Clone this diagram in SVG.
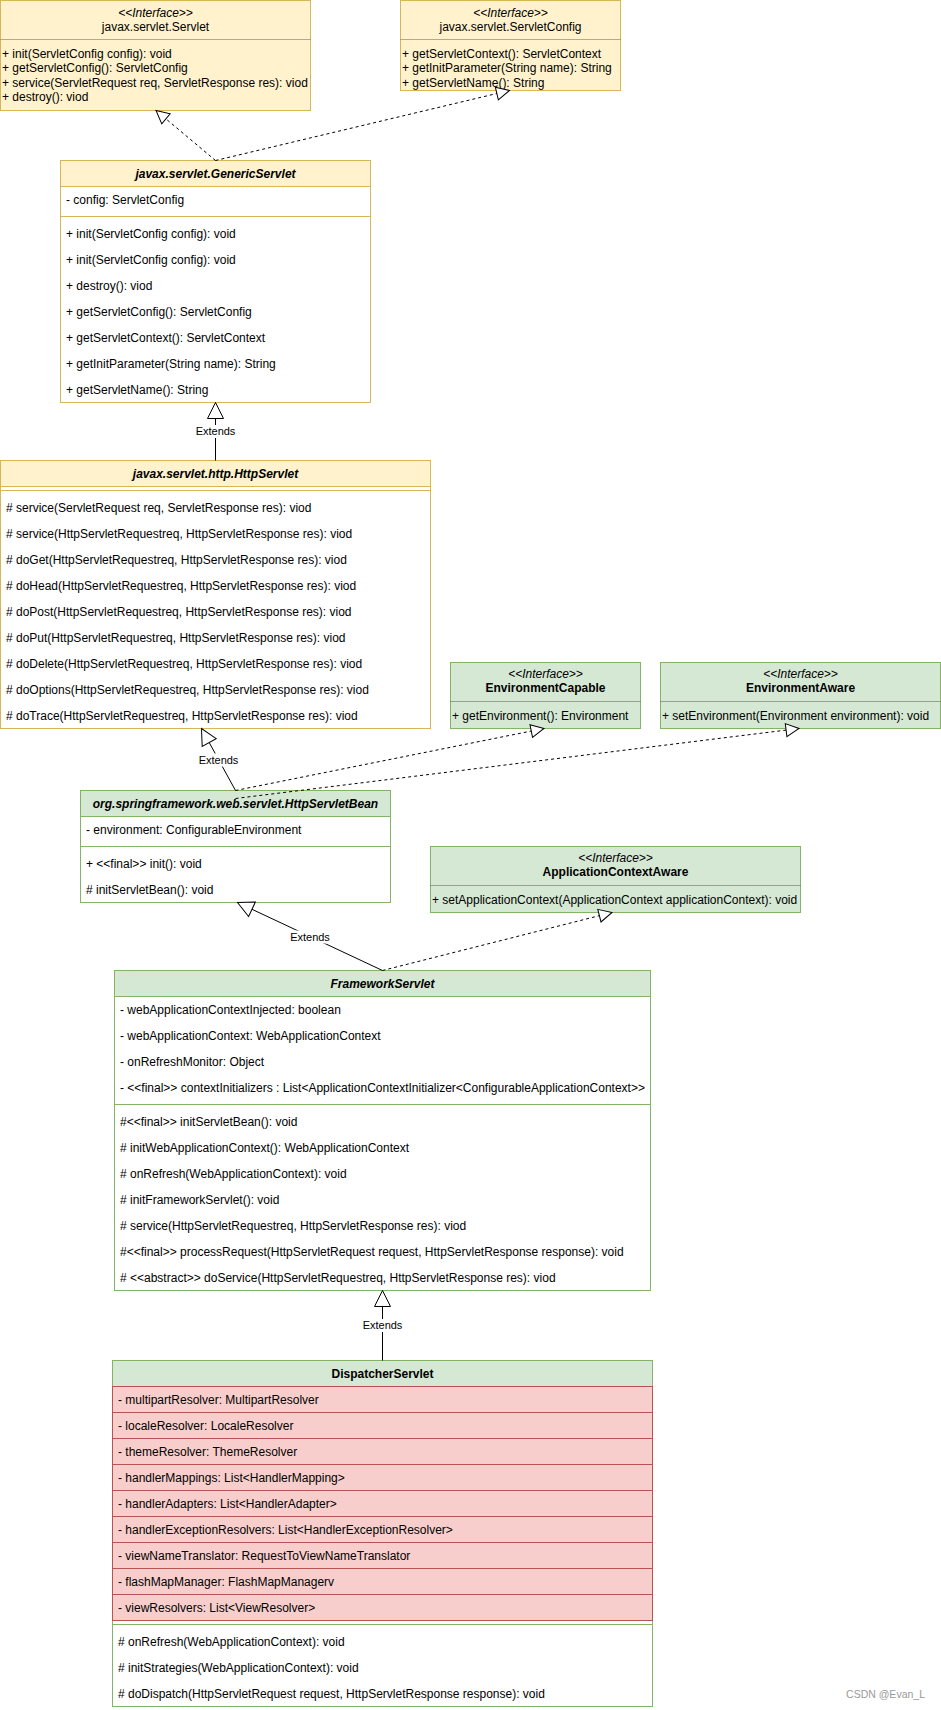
<svg xmlns="http://www.w3.org/2000/svg" width="941" height="1710" viewBox="0 0 941 1710">
<defs>
<style>
text{font-family:"Liberation Sans",Arial,Helvetica,sans-serif;font-size:12px;fill:#000}
.c{text-anchor:middle}
.b{font-weight:bold}
.i{font-style:italic}
.yb{fill:#fff;stroke:#d6b656}
.yh{fill:#fff2cc;stroke:#d6b656}
.gb{fill:#fff;stroke:#82b366}
.gh{fill:#d5e8d4;stroke:#82b366}
.rr{fill:#f8cecc;stroke:#b85450}
.ys{stroke:#d6b656}
.gs{stroke:#82b366}
.hr{stroke:#000;stroke-opacity:0.3}
.edge{fill:none;stroke:#000;stroke-width:1}
.dash{stroke-dasharray:3 3}
.lbl{font-size:11px;text-anchor:middle}
.wm{font-size:10.5px;fill:#9a9a9a;text-anchor:end}
</style>
<marker id="ext" viewBox="-1 -10 19 20" refX="16" refY="0" markerWidth="19" markerHeight="20" markerUnits="userSpaceOnUse" orient="auto">
<path d="M0,-8 L16,0 L0,8 Z" fill="#fff" stroke="#000" stroke-width="1" stroke-dasharray="none"/>
</marker>
<marker id="impl" viewBox="-1 -8 16 16" refX="13" refY="0" markerWidth="16" markerHeight="16" markerUnits="userSpaceOnUse" orient="auto">
<path d="M0,-6.5 L13,0 L0,6.5 Z" fill="#fff" stroke="#000" stroke-width="1" stroke-dasharray="none"/>
</marker>
</defs>
<rect x="0" y="0" width="941" height="1710" fill="#fff"/>

<g id="Servlet">
<rect class="yh" x="0.5" y="0.5" width="310" height="110"/>
<text class="c i" x="155.5" y="16.5">&lt;&lt;Interface&gt;&gt;</text>
<text class="c" x="155.5" y="31">javax.servlet.Servlet</text>
<line class="hr" x1="0.5" y1="39.5" x2="310.5" y2="39.5"/>
<text x="2" y="57.5">+ init(ServletConfig config): void</text>
<text x="2" y="72">+ getServletConfig(): ServletConfig</text>
<text x="2" y="86.5">+ service(ServletRequest req, ServletResponse res): viod</text>
<text x="2" y="101">+ destroy(): viod</text>
</g>

<g id="ServletConfig">
<rect class="yh" x="400.5" y="0.5" width="220" height="90"/>
<text class="c i" x="510.5" y="16.5">&lt;&lt;Interface&gt;&gt;</text>
<text class="c" x="510.5" y="31">javax.servlet.ServletConfig</text>
<line class="hr" x1="400.5" y1="39.5" x2="620.5" y2="39.5"/>
<text x="402" y="57.5">+ getServletContext(): ServletContext</text>
<text x="402" y="72">+ getInitParameter(String name): String</text>
<text x="402" y="86.5">+ getServletName(): String</text>
</g>

<g id="GenericServlet">
<rect class="yb" x="60.5" y="160.5" width="310" height="242"/>
<rect class="yh" x="60.5" y="160.5" width="310" height="26"/>
<text class="c b i" x="215.5" y="178">javax.servlet.GenericServlet</text>
<text x="66" y="203.5">- config: ServletConfig</text>
<line class="ys" x1="60.5" y1="216.5" x2="370.5" y2="216.5"/>
<text x="66" y="237.5">+ init(ServletConfig config): void</text>
<text x="66" y="263.5">+ init(ServletConfig config): void</text>
<text x="66" y="289.5">+ destroy(): viod</text>
<text x="66" y="315.5">+ getServletConfig(): ServletConfig</text>
<text x="66" y="341.5">+ getServletContext(): ServletContext</text>
<text x="66" y="367.5">+ getInitParameter(String name): String</text>
<text x="66" y="393.5">+ getServletName(): String</text>
</g>

<g id="HttpServlet">
<rect class="yb" x="0.5" y="460.5" width="430" height="268"/>
<rect class="yh" x="0.5" y="460.5" width="430" height="26"/>
<text class="c b i" x="215.5" y="478">javax.servlet.http.HttpServlet</text>
<line class="ys" x1="0.5" y1="490.5" x2="430.5" y2="490.5"/>
<text x="6" y="511.5"># service(ServletRequest req, ServletResponse res): viod</text>
<text x="6" y="537.5"># service(HttpServletRequestreq, HttpServletResponse res): viod</text>
<text x="6" y="563.5"># doGet(HttpServletRequestreq, HttpServletResponse res): viod</text>
<text x="6" y="589.5"># doHead(HttpServletRequestreq, HttpServletResponse res): viod</text>
<text x="6" y="615.5"># doPost(HttpServletRequestreq, HttpServletResponse res): viod</text>
<text x="6" y="641.5"># doPut(HttpServletRequestreq, HttpServletResponse res): viod</text>
<text x="6" y="667.5"># doDelete(HttpServletRequestreq, HttpServletResponse res): viod</text>
<text x="6" y="693.5"># doOptions(HttpServletRequestreq, HttpServletResponse res): viod</text>
<text x="6" y="719.5"># doTrace(HttpServletRequestreq, HttpServletResponse res): viod</text>
</g>

<g id="EnvironmentCapable">
<rect class="gh" x="450.5" y="662.5" width="190" height="66"/>
<text class="c i" x="545.5" y="677.5">&lt;&lt;Interface&gt;&gt;</text>
<text class="c b" x="545.5" y="691.5">EnvironmentCapable</text>
<line class="hr" x1="450.5" y1="701.5" x2="640.5" y2="701.5"/>
<text x="452" y="719.5">+ getEnvironment(): Environment</text>
</g>

<g id="EnvironmentAware">
<rect class="gh" x="660.5" y="662.5" width="280" height="66"/>
<text class="c i" x="800.5" y="677.5">&lt;&lt;Interface&gt;&gt;</text>
<text class="c b" x="800.5" y="691.5">EnvironmentAware</text>
<line class="hr" x1="660.5" y1="701.5" x2="940.5" y2="701.5"/>
<text x="662" y="719.5">+ setEnvironment(Environment environment): void</text>
</g>

<g id="HttpServletBean">
<rect class="gb" x="80.5" y="790.5" width="310" height="112"/>
<rect class="gh" x="80.5" y="790.5" width="310" height="26"/>
<text class="c b i" x="235.5" y="808">org.springframework.web.servlet.HttpServletBean</text>
<text x="86" y="833.5">- environment: ConfigurableEnvironment</text>
<line class="gs" x1="80.5" y1="846.5" x2="390.5" y2="846.5"/>
<text x="86" y="867.5">+ &lt;&lt;final&gt;&gt; init(): void</text>
<text x="86" y="893.5"># initServletBean(): void</text>
</g>

<g id="ApplicationContextAware">
<rect class="gh" x="430.5" y="846.5" width="370" height="66"/>
<text class="c i" x="615.5" y="861.5">&lt;&lt;Interface&gt;&gt;</text>
<text class="c b" x="615.5" y="875.5">ApplicationContextAware</text>
<line class="hr" x1="430.5" y1="885.5" x2="800.5" y2="885.5"/>
<text x="432" y="904">+ setApplicationContext(ApplicationContext applicationContext): void</text>
</g>

<g id="FrameworkServlet">
<rect class="gb" x="114.5" y="970.5" width="536" height="320"/>
<rect class="gh" x="114.5" y="970.5" width="536" height="26"/>
<text class="c b i" x="382.5" y="988">FrameworkServlet</text>
<text x="120" y="1013.5">- webApplicationContextInjected: boolean</text>
<text x="120" y="1039.5">- webApplicationContext: WebApplicationContext</text>
<text x="120" y="1065.5">- onRefreshMonitor: Object</text>
<text x="120" y="1091.5">- &lt;&lt;final&gt;&gt; contextInitializers : List&lt;ApplicationContextInitializer&lt;ConfigurableApplicationContext&gt;&gt;</text>
<line class="gs" x1="114.5" y1="1104.5" x2="650.5" y2="1104.5"/>
<text x="120" y="1125.5">#&lt;&lt;final&gt;&gt; initServletBean(): void</text>
<text x="120" y="1151.5"># initWebApplicationContext(): WebApplicationContext</text>
<text x="120" y="1177.5"># onRefresh(WebApplicationContext): void</text>
<text x="120" y="1203.5"># initFrameworkServlet(): void</text>
<text x="120" y="1229.5"># service(HttpServletRequestreq, HttpServletResponse res): viod</text>
<text x="120" y="1255.5">#&lt;&lt;final&gt;&gt; processRequest(HttpServletRequest request, HttpServletResponse response): void</text>
<text x="120" y="1281.5"># &lt;&lt;abstract&gt;&gt; doService(HttpServletRequestreq, HttpServletResponse res): viod</text>
</g>

<g id="DispatcherServlet">
<rect class="gb" x="112.5" y="1360.5" width="540" height="346"/>
<rect class="gh" x="112.5" y="1360.5" width="540" height="26"/>
<text class="c b" x="382.5" y="1378">DispatcherServlet</text>
<rect class="rr" x="112.5" y="1386.5" width="540" height="26"/>
<rect class="rr" x="112.5" y="1412.5" width="540" height="26"/>
<rect class="rr" x="112.5" y="1438.5" width="540" height="26"/>
<rect class="rr" x="112.5" y="1464.5" width="540" height="26"/>
<rect class="rr" x="112.5" y="1490.5" width="540" height="26"/>
<rect class="rr" x="112.5" y="1516.5" width="540" height="26"/>
<rect class="rr" x="112.5" y="1542.5" width="540" height="26"/>
<rect class="rr" x="112.5" y="1568.5" width="540" height="26"/>
<rect class="rr" x="112.5" y="1594.5" width="540" height="26"/>
<text x="118" y="1403.5">- multipartResolver: MultipartResolver</text>
<text x="118" y="1429.5">- localeResolver: LocaleResolver</text>
<text x="118" y="1455.5">- themeResolver: ThemeResolver</text>
<text x="118" y="1481.5">- handlerMappings: List&lt;HandlerMapping&gt;</text>
<text x="118" y="1507.5">- handlerAdapters: List&lt;HandlerAdapter&gt;</text>
<text x="118" y="1533.5">- handlerExceptionResolvers: List&lt;HandlerExceptionResolver&gt;</text>
<text x="118" y="1559.5">- viewNameTranslator: RequestToViewNameTranslator</text>
<text x="118" y="1585.5">- flashMapManager: FlashMapManagerv</text>
<text x="118" y="1611.5">- viewResolvers: List&lt;ViewResolver&gt;</text>
<line class="gs" x1="112.5" y1="1624.5" x2="652.5" y2="1624.5"/>
<text x="118" y="1645.5"># onRefresh(WebApplicationContext): void</text>
<text x="118" y="1671.5"># initStrategies(WebApplicationContext): void</text>
<text x="118" y="1697.5"># doDispatch(HttpServletRequest request, HttpServletResponse response): void</text>
</g>

<g id="connectors">
<path class="edge dash" d="M215.5,160.5 L156,110.5" marker-end="url(#impl)"/>
<path class="edge dash" d="M215.5,160.5 L509.5,90.5" marker-end="url(#impl)"/>
<path class="edge" d="M215.5,460.5 L215.5,402.5" marker-end="url(#ext)"/>
<path class="edge" d="M235.5,790.5 L201.5,728.5" marker-end="url(#ext)"/>
<path class="edge dash" d="M235.5,790.5 L544,728.5" marker-end="url(#impl)"/>
<path class="edge dash" d="M235.5,798.5 L799,728.5" marker-end="url(#impl)"/>
<path class="edge" d="M382.5,970.5 L237.5,902.5" marker-end="url(#ext)"/>
<path class="edge dash" d="M382.5,970.5 L612,912.5" marker-end="url(#impl)"/>
<path class="edge" d="M382.5,1360.5 L382.5,1290.5" marker-end="url(#ext)"/>
<rect x="195.5" y="425" width="40" height="13" fill="#fff"/>
<text class="lbl" x="215.5" y="435">Extends</text>
<rect x="198.5" y="753.5" width="40" height="13" fill="#fff"/>
<text class="lbl" x="218.5" y="763.5">Extends</text>
<rect x="290" y="930.5" width="40" height="13" fill="#fff"/>
<text class="lbl" x="310" y="940.5">Extends</text>
<rect x="362.5" y="1319" width="40" height="13" fill="#fff"/>
<text class="lbl" x="382.5" y="1329">Extends</text>
</g>

<text class="wm" x="925" y="1698">CSDN @Evan_L</text>
</svg>
